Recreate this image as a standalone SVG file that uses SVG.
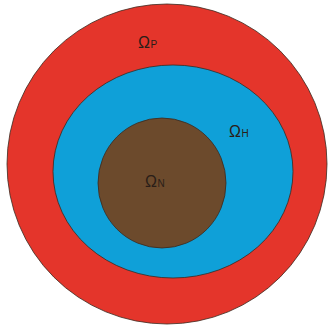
<svg xmlns="http://www.w3.org/2000/svg" width="328" height="328" viewBox="0 0 328 328">
<style>
.r{stroke:#3a2a20;stroke-width:0.8}
.t{font-family:"Liberation Sans","DejaVu Sans",sans-serif;fill:#2a1e18}
.o{font-size:16px}
.s{font-size:10px}
</style>
<rect width="328" height="328" fill="#ffffff"/>
<g id="outer"><circle class="r" cx="167" cy="164" r="160" fill="#e4352b"/></g>
<g id="middle"><ellipse class="r" cx="173" cy="171.5" rx="120" ry="106.5" fill="#0fa0d8"/></g>
<g id="inner"><ellipse class="r" cx="162" cy="183" rx="64" ry="65" fill="#6c4a2c"/></g>
<text class="t" x="138" y="48"><tspan class="o">Ω</tspan><tspan class="s" dx="0.5">P</tspan></text>
<text class="t" x="229" y="137"><tspan class="o">Ω</tspan><tspan class="s" dx="0.5">H</tspan></text>
<text class="t" x="145" y="187"><tspan class="o">Ω</tspan><tspan class="s" dx="0.5">N</tspan></text>
</svg>
